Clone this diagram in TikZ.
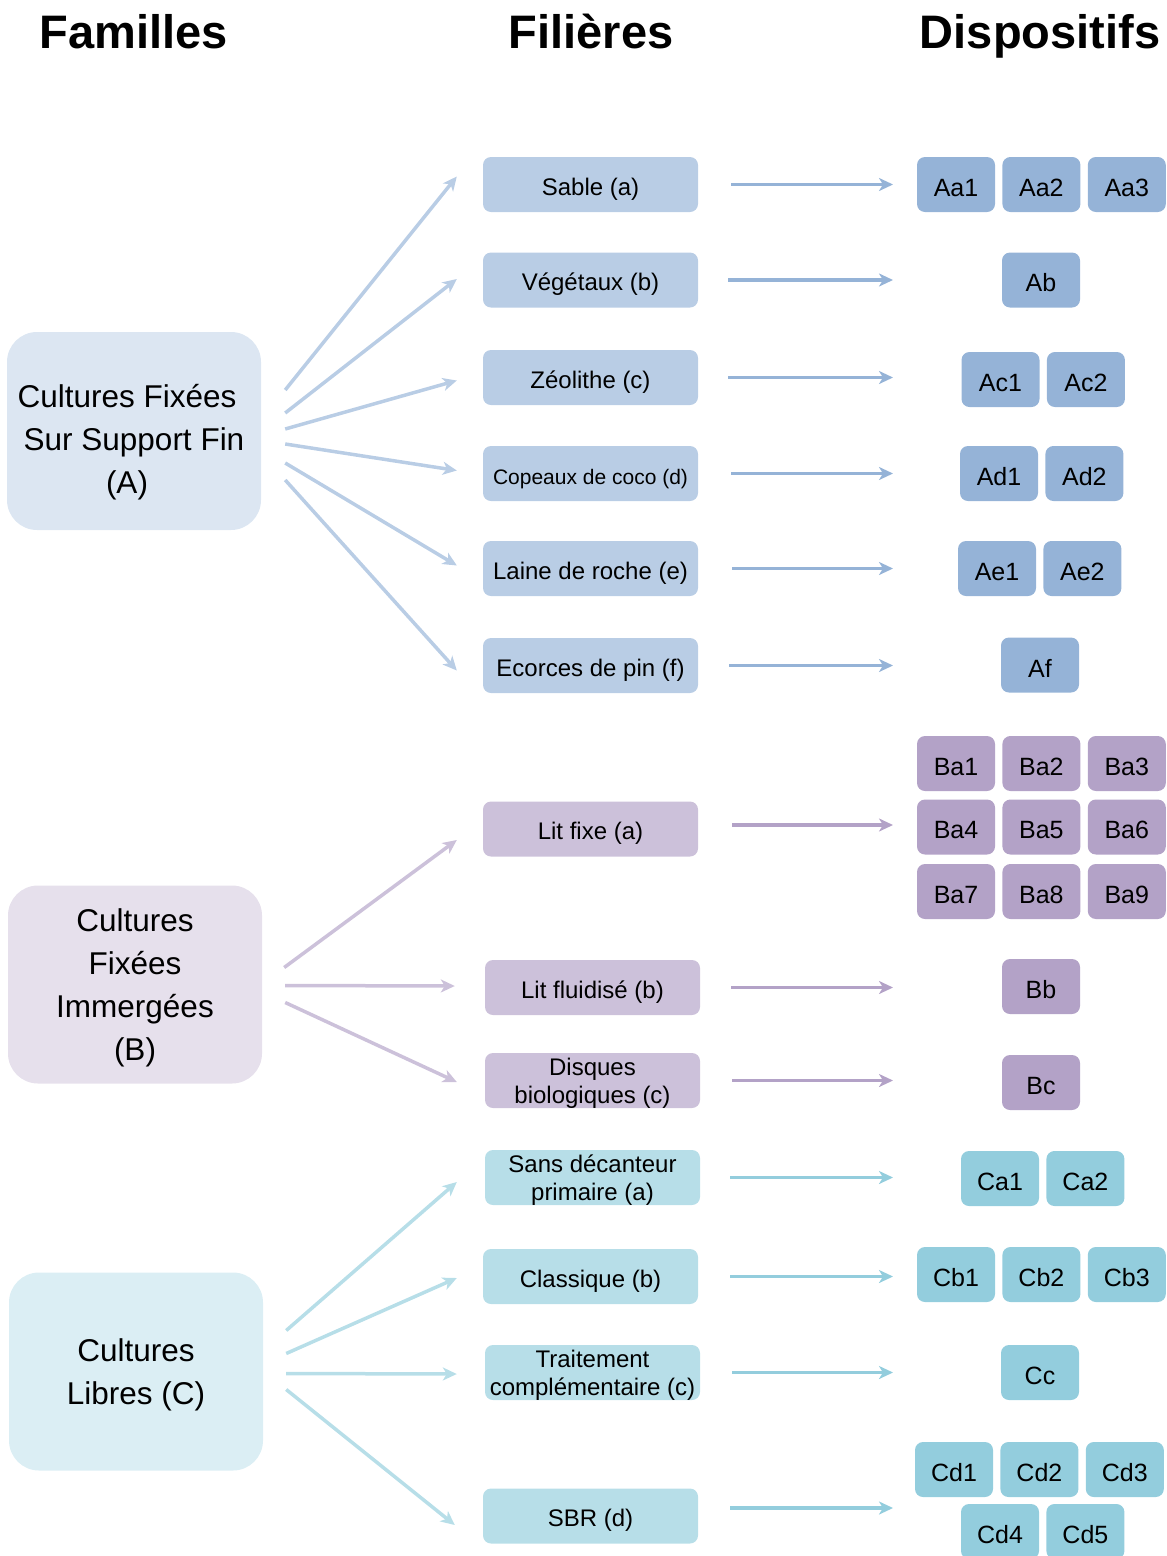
\documentclass[tikz,border=0pt]{standalone}
\usepackage{fontspec}
\setmainfont{Liberation Sans}
\usepackage{xcolor}
\usepackage{tikz}
\usetikzlibrary{positioning, arrows.meta}
\definecolor{BlueFam}{HTML}{DCE6F2}
\definecolor{BlueFil}{HTML}{B9CDE5}
\definecolor{BlueDev}{HTML}{95B3D7}
\definecolor{PurpleFam}{HTML}{E6E0EC}
\definecolor{PurpleFil}{HTML}{CCC1DA}
\definecolor{PurpleDev}{HTML}{B3A2C7}
\definecolor{AquaFam}{HTML}{DBEEF4}
\definecolor{AquaFil}{HTML}{B7DEE8}
\definecolor{AquaDev}{HTML}{93CDDD}

\begin{document}
\begin{tikzpicture}[x=1pt, y=-1pt, node distance=7pt,
  title/.style={font=\fontsize{47}{56}\selectfont\bfseries, anchor=base},
  famille/.style={rounded corners=30pt, align=center, minimum width=254pt, minimum height=198pt, inner sep=0pt, font=\fontsize{31.5}{43}\selectfont, text depth=0pt},
  filiere/.style={rounded corners=8pt, align=center, minimum width=215pt, minimum height=55pt, inner sep=0pt, font=\fontsize{24}{28}\selectfont, text depth=0pt, execute at begin node={\rule{0pt}{21pt}}},
  dispo/.style={rounded corners=8pt, align=center, minimum width=78pt, minimum height=55pt, inner sep=0pt, font=\fontsize{25}{30}\selectfont, execute at begin node={\rule{0pt}{24pt}}},
  arrow/.style={-{Stealth[length=14pt, width=13pt, inset=4pt]}, line width=3.5pt}]

\useasboundingbox (0,0) rectangle (1167,1556);

% Column titles
\node[title] (tfam) at (134,48) {Familles};
\node[title] (tfil) at (591,48) {Filières};
\node[title] (tdis) at (1040,48) {Dispositifs};

% Families
\node[famille, fill=BlueFam, text height=125.5pt] (fA) at (134,431) {Cultures Fixées\hspace*{14pt}\\Sur Support Fin\hspace*{14pt}\\(A)\hspace*{14pt}};
\node[famille, fill=PurpleFam] (fB) at (135,984.5) {Cultures\\Fixées\\Immergées\\(B)};
\node[famille, fill=AquaFam] (fC) at (136,1371.5) {Cultures\\Libres (C)};

% Filieres of family A
\node[filiere, fill=BlueFil] (sable) at (590.5,184.5) {Sable (a)};
\node[filiere, fill=BlueFil] (veget) at (590.5,280) {Végétaux (b)};
\node[filiere, fill=BlueFil] (zeol) at (590.5,377.5) {Zéolithe (c)};
\node[filiere, fill=BlueFil, font=\fontsize{21}{25}\selectfont] (coco) at (590.5,473.5) {Copeaux de coco (d)};
\node[filiere, fill=BlueFil] (laine) at (590.5,568.5) {Laine de roche (e)};
\node[filiere, fill=BlueFil] (ecorce) at (590.5,665.5) {Ecorces de pin (f)};

% Filieres of family B
\node[filiere, fill=PurpleFil] (litfixe) at (590.5,829) {Lit fixe (a)};
\node[filiere, fill=PurpleFil] (litflu) at (592.5,987.5) {Lit fluidisé (b)};
\node[filiere, fill=PurpleFil] (disques) at (592.5,1080.5) {Disques\\biologiques (c)};

% Filieres of family C
\node[filiere, fill=AquaFil] (sansdec) at (592.5,1177.5) {Sans décanteur\\primaire (a)};
\node[filiere, fill=AquaFil] (classique) at (590.5,1276.5) {Classique (b)};
\node[filiere, fill=AquaFil] (traitc) at (592.5,1372.5) {Traitement\\complémentaire (c)};
\node[filiere, fill=AquaFil] (sbr) at (590.5,1516) {SBR (d)};

% Dispositifs A
\node[dispo, fill=BlueDev] (aa1) at (956,184.5) {Aa1};
\node[dispo, fill=BlueDev, right=of aa1] (aa2) {Aa2};
\node[dispo, fill=BlueDev, right=of aa2] (aa3) {Aa3};
\node[dispo, fill=BlueDev] (ab) at (1041,280) {Ab};
\node[dispo, fill=BlueDev] (ac1) at (1000.5,379.5) {Ac1};
\node[dispo, fill=BlueDev, right=of ac1] (ac2) {Ac2};
\node[dispo, fill=BlueDev] (ad1) at (999,473.5) {Ad1};
\node[dispo, fill=BlueDev, right=of ad1] (ad2) {Ad2};
\node[dispo, fill=BlueDev] (ae1) at (997,568.5) {Ae1};
\node[dispo, fill=BlueDev, right=of ae1] (ae2) {Ae2};
\node[dispo, fill=BlueDev] (af) at (1040,665) {Af};

% Dispositifs B
\node[dispo, fill=PurpleDev] (ba1) at (956,763.5) {Ba1};
\node[dispo, fill=PurpleDev, right=of ba1] (ba2) {Ba2};
\node[dispo, fill=PurpleDev, right=of ba2] (ba3) {Ba3};
\node[dispo, fill=PurpleDev] (ba4) at (956,827) {Ba4};
\node[dispo, fill=PurpleDev, right=of ba4] (ba5) {Ba5};
\node[dispo, fill=PurpleDev, right=of ba5] (ba6) {Ba6};
\node[dispo, fill=PurpleDev] (ba7) at (956,891.5) {Ba7};
\node[dispo, fill=PurpleDev, right=of ba7] (ba8) {Ba8};
\node[dispo, fill=PurpleDev, right=of ba8] (ba9) {Ba9};
\node[dispo, fill=PurpleDev] (bb) at (1041,986.5) {Bb};
\node[dispo, fill=PurpleDev] (bc) at (1041,1082.5) {Bc};

% Dispositifs C
\node[dispo, fill=AquaDev] (ca1) at (1000,1178.5) {Ca1};
\node[dispo, fill=AquaDev, right=of ca1] (ca2) {Ca2};
\node[dispo, fill=AquaDev] (cb1) at (956,1274.5) {Cb1};
\node[dispo, fill=AquaDev, right=of cb1] (cb2) {Cb2};
\node[dispo, fill=AquaDev, right=of cb2] (cb3) {Cb3};
\node[dispo, fill=AquaDev] (cc) at (1040,1372.5) {Cc};
\node[dispo, fill=AquaDev] (cd1) at (954,1469.5) {Cd1};
\node[dispo, fill=AquaDev, right=of cd1] (cd2) {Cd2};
\node[dispo, fill=AquaDev, right=of cd2] (cd3) {Cd3};
\node[dispo, fill=AquaDev] (cd4) at (1000,1531.5) {Cd4};
\node[dispo, fill=AquaDev, right=of cd4] (cd5) {Cd5};

% end of the arrows towards the dispositifs
\coordinate (tip) at (893,0);

% Families -> filieres
\draw[arrow, BlueFil] ([xshift=24pt, yshift=41pt]fA.east) -- ([xshift=-26pt, yshift=8pt]sable.west);
\draw[arrow, BlueFil] ([xshift=24pt, yshift=18pt]fA.east) -- ([xshift=-26pt, yshift=1pt]veget.west);
\draw[arrow, BlueFil] ([xshift=24pt, yshift=2pt]fA.east) -- ([xshift=-26pt, yshift=-3pt]zeol.west);
\draw[arrow, BlueFil] ([xshift=24pt, yshift=-13pt]fA.east) -- ([xshift=-26pt, yshift=3pt]coco.west);
\draw[arrow, BlueFil] ([xshift=24pt, yshift=-32pt]fA.east) -- ([xshift=-26pt, yshift=3pt]laine.west);
\draw[arrow, BlueFil] ([xshift=24pt, yshift=-49pt]fA.east) -- ([xshift=-26pt, yshift=-5pt]ecorce.west);

\draw[arrow, PurpleFil] ([xshift=22pt, yshift=17pt]fB.east) -- ([xshift=-26pt, yshift=-11pt]litfixe.west);
\draw[arrow, PurpleFil] ([xshift=23pt, yshift=-1pt]fB.east) -- ([xshift=-30pt, yshift=1.5pt]litflu.west);
\draw[arrow, PurpleFil] ([xshift=23pt, yshift=-18pt]fB.east) -- ([xshift=-28pt, yshift=-1.5pt]disques.west);

\draw[arrow, AquaFil] ([xshift=23pt, yshift=41pt]fC.east) -- ([xshift=-28pt, yshift=-4.5pt]sansdec.west);
\draw[arrow, AquaFil] ([xshift=23pt, yshift=18pt]fC.east) -- ([xshift=-26pt, yshift=-1.5pt]classique.west);
\draw[arrow, AquaFil] ([xshift=23pt, yshift=-2pt]fC.east) -- ([xshift=-28pt, yshift=-1.5pt]traitc.west);
\draw[arrow, AquaFil] ([xshift=23pt, yshift=-18pt]fC.east) -- ([xshift=-28pt, yshift=-9pt]sbr.west);

% Filieres -> dispositifs
\draw[arrow, BlueDev] ([xshift=33pt]sable.east) -- (sable.east -| tip);
\draw[arrow, BlueDev] ([xshift=30pt]veget.east) -- (veget.east -| tip);
\draw[arrow, BlueDev] ([xshift=30pt]zeol.east) -- (zeol.east -| tip);
\draw[arrow, BlueDev] ([xshift=33pt]coco.east) -- (coco.east -| tip);
\draw[arrow, BlueDev] ([xshift=34pt]laine.east) -- (laine.east -| tip);
\draw[arrow, BlueDev] ([xshift=31pt]ecorce.east) -- (ecorce.east -| tip);

\draw[arrow, PurpleDev] ([xshift=34pt, yshift=4pt]litfixe.east) -- ([yshift=4pt]litfixe.east -| tip);
\draw[arrow, PurpleDev] ([xshift=31pt]litflu.east) -- (litflu.east -| tip);
\draw[arrow, PurpleDev] ([xshift=32pt]disques.east) -- (disques.east -| tip);

\draw[arrow, AquaDev] ([xshift=30pt]sansdec.east) -- (sansdec.east -| tip);
\draw[arrow, AquaDev] ([xshift=32pt]classique.east) -- (classique.east -| tip);
\draw[arrow, AquaDev] ([xshift=32pt]traitc.east) -- (traitc.east -| tip);
\draw[arrow, AquaDev] ([xshift=32pt, yshift=8pt]sbr.east) -- ([yshift=8pt]sbr.east -| tip);
\end{tikzpicture}
\end{document}
